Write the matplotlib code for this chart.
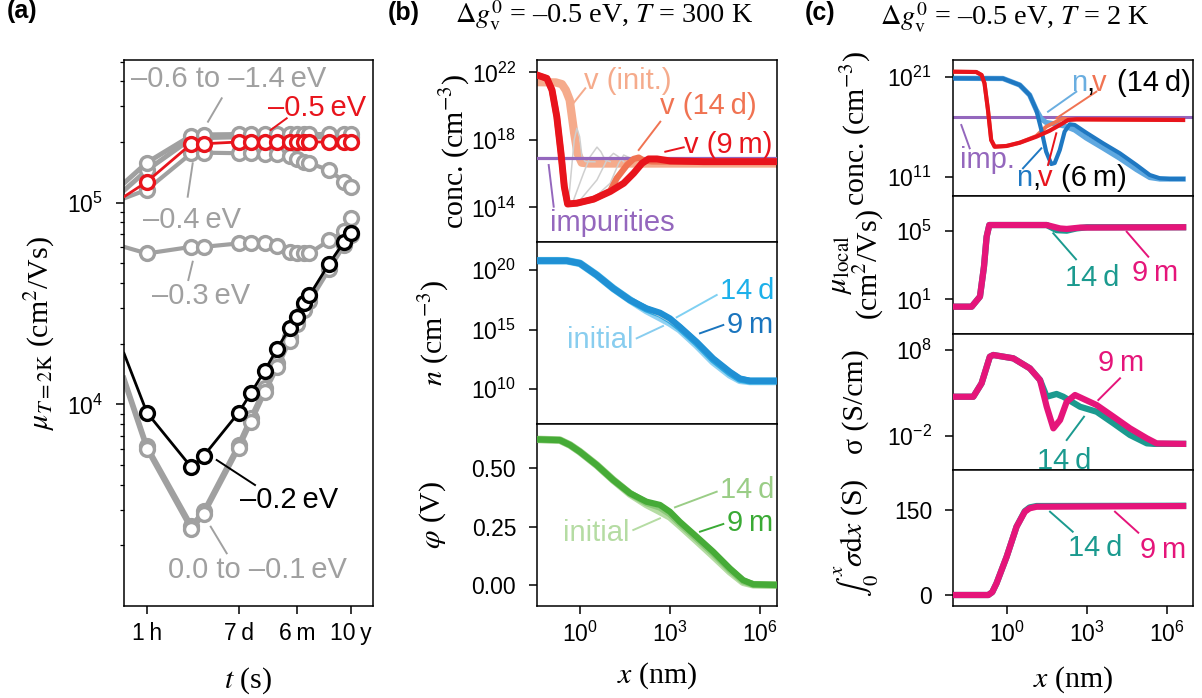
import numpy as np
import matplotlib
matplotlib.use('Agg')
import matplotlib.pyplot as plt
from matplotlib.lines import Line2D
from matplotlib.ticker import NullLocator, LogLocator, NullFormatter

plt.rcParams['font.family'] = ['Liberation Sans', 'DejaVu Sans']
plt.rcParams['mathtext.fontset'] = 'custom'
plt.rcParams['mathtext.rm'] = 'Liberation Sans'
plt.rcParams['mathtext.it'] = 'Liberation Sans:italic'
plt.rcParams['mathtext.bf'] = 'Liberation Sans:bold'

# ---------------- panel (a): mobility vs time ----------------
t_sec = [1e3, 3600, 43200, 86400, 604800, 1.21e6, 2.6e6, 5.2e6, 1.04e7,
         1.58e7, 2.37e7, 3.16e7, 9.5e7, 2.2e8, 3.16e8]
mu_m02 = [1.79e4, 9.1e3, 4.87e3, 5.56e3, 9.1e3, 1.14e4, 1.47e4, 1.89e4, 2.39e4,
          2.71e4, 3.18e4, 3.47e4, 4.99e4, 6.4e4, 7.05e4]
mu_m05 = [1.07e5, 1.27e5, 1.96e5, 1.96e5, 2.0e5, 2.0e5, 2.0e5, 2.0e5, 2.0e5,
          2.0e5, 2.0e5, 2.0e5, 2.0e5, 2.0e5, 2.0e5]
mu_m06 = [1.15e5, 1.45e5, 2.08e5, 2.1e5, 2.12e5, 2.12e5, 2.12e5, 2.12e5, 2.12e5,
          2.12e5, 2.12e5, 2.12e5, 2.12e5, 2.12e5, 2.12e5]
mu_m14 = [1.25e5, 1.58e5, 2.15e5, 2.17e5, 2.18e5, 2.18e5, 2.18e5, 2.18e5, 2.18e5,
          2.18e5, 2.18e5, 2.18e5, 2.18e5, 2.18e5, 2.18e5]
mu_m04 = [1.05e5, 1.16e5, 1.76e5, 1.77e5, 1.76e5, 1.76e5, 1.75e5, 1.74e5, 1.7e5,
          1.65e5, 1.6e5, 1.57e5, 1.45e5, 1.27e5, 1.2e5]
mu_m03 = [6.04e4, 5.6e4, 6.04e4, 6.04e4, 6.28e4, 6.28e4, 6.28e4, 6.1e4, 5.7e4,
          5.62e4, 5.62e4, 5.62e4, 6.5e4, 7.2e4, 8.4e4]
mu_m00 = [1.31e4, 6.0e3, 2.4e3, 2.85e3, 6.07e3, 8.2e3, 1.15e4, 1.53e4, 2.07e4,
          2.5e4, 2.95e4, 3.25e4, 4.7e4, 6.2e4, 6.9e4]
mu_m01 = [1.35e4, 6.2e3, 2.5e3, 2.95e3, 6.3e3, 8.6e3, 1.2e4, 1.6e4, 2.15e4,
          2.6e4, 3.05e4, 3.35e4, 4.85e4, 6.3e4, 7.0e4]
t_ticks = [3600, 604800, 1.58e7, 3.156e8]
t_labels = ['1\u2009h', '7\u2009d', '6\u2009m', '10\u2009y']

# ---------------- panel (b): T = 300 K profiles (log10 x in nm) ----------------
bv9_lx = [-1.43, -1.1, -0.93, -0.77, -0.63, -0.52, -0.41, -0.1, 0.46, 1.01, 1.46,
          1.79, 2.07, 2.29, 2.57, 3.01, 4.12, 6.57]
bv9_ly = [21.84, 21.64, 20.95, 19.37, 17.2, 15.23, 14.2, 14.25, 14.49, 14.94, 15.43,
          16.02, 16.61, 16.87, 16.87, 16.75, 16.71, 16.71]
bv14_lx = [-1.43, -1.1, -0.93, -0.77, -0.63, -0.52, -0.41, -0.1, 0.46, 1.01, 1.23,
           1.57, 1.79, 1.96, 2.12, 2.4, 3.0, 6.57]
bv14_ly = [21.84, 21.64, 20.95, 19.37, 17.2, 15.23, 14.2, 14.25, 14.49, 14.98, 15.73,
           16.51, 16.87, 16.95, 16.78, 16.72, 16.71, 16.71]
bvi_lx = [-1.43, -0.8, -0.6, -0.47, -0.34, -0.19, -0.08, 0.06, 0.3, 6.57]
bvi_ly = [21.42, 21.4, 21.3, 20.95, 20.36, 18.4, 17.2, 16.65, 16.6, 16.6]
gA_lx = [-0.41, -0.38, -0.19, -0.1, -0.01, 0.07, 0.18, 0.5]
gA_ly = [14.2, 14.34, 18.0, 18.69, 18.19, 17.0, 16.71, 16.7]
gB_lx = [-0.21, 0.12, 0.34, 0.57, 0.7, 0.84, 1.01]
gB_ly = [14.44, 16.02, 17.0, 17.57, 17.3, 16.81, 16.71]
gC_lx = [0.01, 0.57, 0.9, 1.12, 1.29, 1.46]
gC_ly = [14.44, 15.63, 16.81, 17.2, 17.0, 16.71]
gD_lx = [0.46, 1.01, 1.29, 1.46, 1.62, 1.79]
gD_ly = [14.54, 15.43, 16.6, 17.1, 16.97, 16.71]
imp_conc = 9e16

bn_lx = [-1.43, -0.44, 0.0, 0.56, 1.11, 1.67, 2.22, 2.67, 3.0, 3.33, 3.89, 4.44,
         5.0, 5.33, 5.67, 6.57]
bn9_ly = [20.78, 20.78, 20.56, 19.58, 18.46, 17.48, 16.78, 16.41, 15.94, 15.24, 13.97,
          12.58, 11.46, 10.9, 10.7, 10.7]
bn14_ly = [20.78, 20.78, 20.56, 19.58, 18.46, 17.48, 16.72, 16.3, 15.8, 15.15, 13.88,
           12.48, 11.36, 10.83, 10.68, 10.68]
bnm_ly = [20.78, 20.78, 20.56, 19.58, 18.46, 17.48, 16.65, 16.12, 15.65, 15.05, 13.78,
          12.38, 11.25, 10.78, 10.66, 10.66]
bni_ly = [20.78, 20.78, 20.56, 19.58, 18.46, 17.48, 16.6, 16.0, 15.55, 15.0, 13.7,
          12.3, 11.2, 10.75, 10.65, 10.65]

bp_lx = [-1.43, -0.67, -0.33, 0.0, 0.56, 1.11, 1.67, 2.22, 2.67, 3.0, 3.33, 3.89,
         4.44, 5.0, 5.44, 5.78, 6.57]
bp9 = [0.624, 0.621, 0.6, 0.571, 0.514, 0.45, 0.393, 0.357, 0.343, 0.314, 0.271,
       0.207, 0.143, 0.071, 0.021, 0.003, 0.0]
bp14 = [0.624, 0.621, 0.6, 0.571, 0.514, 0.45, 0.393, 0.352, 0.333, 0.305, 0.264,
        0.2, 0.136, 0.065, 0.017, 0.002, 0.0]
bpi = [0.624, 0.621, 0.6, 0.571, 0.514, 0.45, 0.39, 0.345, 0.315, 0.292, 0.255,
       0.19, 0.125, 0.057, 0.012, 0.001, 0.0]

# ---------------- panel (c): T = 2 K profiles ----------------
cv6_lx = [-2.02, -1.15, -0.95, -0.84, -0.71, -0.59, -0.46, -0.02, 0.48, 1.1, 1.6,
          1.98, 2.29, 2.6, 6.6]
cv6_ly = [21.53, 21.5, 21.2, 20.37, 17.7, 14.7, 14.03, 14.1, 14.43, 15.03, 15.63,
          16.2, 16.7, 16.77, 16.7]
cv14_lx = [-2.02, -1.15, -0.95, -0.84, -0.71, -0.59, -0.46, -0.02, 0.48, 1.1, 1.47,
           1.85, 2.1, 2.4, 6.6]
cv14_ly = [21.53, 21.5, 21.2, 20.37, 17.7, 14.7, 14.03, 14.1, 14.43, 15.1, 16.03,
           16.53, 16.85, 16.75, 16.7]
cn6_lx = [-2.02, -0.15, 0.48, 0.85, 1.1, 1.29, 1.47, 1.66, 1.79, 1.98, 2.16, 2.35,
          2.54, 2.97, 3.6, 4.23, 4.85, 5.35, 5.73, 6.1, 6.6]
cn6_ly = [20.87, 20.85, 20.2, 19.2, 17.7, 15.7, 13.53, 12.3, 12.4, 13.7, 15.53, 16.27,
          16.2, 15.43, 14.37, 13.37, 12.2, 11.2, 10.87, 10.8, 10.8]
cn14_lx = [-2.02, -0.15, 0.48, 0.85, 1.1, 1.29, 1.47, 1.79, 2.16, 2.54, 2.97, 3.6,
           4.23, 4.85, 5.35, 5.73, 6.6]
cn14_ly = [20.87, 20.85, 20.2, 19.2, 17.7, 16.8, 16.45, 16.3, 16.1, 15.7, 14.9, 13.9,
           12.87, 11.75, 10.95, 10.8, 10.8]

cm9_lx = [-2.02, -1.32, -1.01, -0.86, -0.76, -0.66, 1.49, 1.99, 2.24, 2.74, 6.6]
cm9_ly = [0.57, 0.57, 1.16, 2.91, 4.67, 5.35, 5.35, 5.15, 5.12, 5.2, 5.22]
cm14_lx = [-2.02, -1.32, -1.01, -0.86, -0.76, -0.66, 1.49, 1.86, 2.24, 2.6, 3.0, 6.6]
cm14_ly = [0.57, 0.57, 1.16, 2.91, 4.67, 5.35, 5.35, 5.05, 5.02, 5.15, 5.22, 5.22]

cs9_lx = [-2.02, -1.26, -0.95, -0.64, -0.51, 0.24, 0.86, 1.24, 1.49, 1.74, 1.99, 2.24,
          2.55, 3.36, 3.99, 4.61, 5.24, 5.61, 6.6]
cs9_ly = [2.55, 2.55, 4.11, 7.22, 7.42, 7.03, 5.86, 4.5, 1.38, -1.14, -0.17, 1.97,
          2.75, 1.58, 0.22, -1.14, -2.3, -2.9, -2.95]
cs14_lx = [-2.02, -1.26, -0.95, -0.64, -0.51, 0.24, 0.86, 1.24, 1.49, 1.86, 2.11, 2.74,
           3.36, 3.99, 4.61, 5.24, 5.5, 6.6]
cs14_ly = [2.55, 2.55, 4.11, 7.22, 7.42, 7.03, 5.86, 4.5, 2.55, 2.87, 2.55, 1.38,
           0.8, -0.55, -1.92, -2.89, -2.95, -2.95]

ci_lx = [-2.02, -0.7, -0.55, -0.39, -0.01, 0.36, 0.67, 0.85, 1.11, 6.6]
ci9 = [0, 0, 5, 20.6, 67.6, 120.5, 147, 153, 155.8, 157]
ci14 = [0, 0, 5, 20.6, 67.6, 120.5, 148, 154.5, 157, 157.5]

# ---------------- colours ----------------
GRAY = '#a0a0a0'
RED = '#e8141c'
SALMON = '#f5ab8c'
ORANGE = '#f07352'
PURPLE = '#9467bd'
MAGENTA = '#e5157a'
TEAL = '#1b9a8f'

W, H = 1202, 698
fig = plt.figure(figsize=(W / 100, H / 100), dpi=100)


def add_ax(l, t, r, b):
    return fig.add_axes([l / W, 1 - b / H, (r - l) / W, (b - t) / H])


def style(ax):
    for s in ax.spines.values():
        s.set_linewidth(1.1)
    ax.tick_params(which='major', length=5.5, width=1.1, labelsize=16.5)
    ax.tick_params(axis='y', which='major', pad=9.5)
    ax.tick_params(axis='x', which='major', pad=6)
    ax.tick_params(which='minor', length=3, width=0.9)


def note(px, py, s, color, va='center_baseline', size=21):
    fig.text(px / W, 1 - py / H, s, color=color, fontsize=size, ha='left', va=va)


def lead(x0, y0, x1, y1, color):
    fig.add_artist(Line2D([x0 / W, x1 / W], [1 - y0 / H, 1 - y1 / H], color=color, lw=1.4))


serif = dict(fontfamily='Liberation Serif', math_fontfamily='stix', fontsize=21.5)
tserif = dict(fontfamily='Liberation Serif', math_fontfamily='stix', fontsize=20.3)


def p10(v):
    return 10 ** np.array(v)


# ---- (a)
ax = add_ax(124, 60, 373, 606)
style(ax)
ax.set_xscale('log')
ax.set_yscale('log')
n = len(t_sec)
mk = list(range(1, n))
for vals, lw in [(mu_m06, 3.5), (mu_m14, 3.5), (mu_m04, 3), (mu_m03, 3),
                 (mu_m01, 3.5), (mu_m00, 3.5)]:
    ax.plot(t_sec, vals, '-o', color=GRAY, lw=lw, ms=10, mfc='white', mec=GRAY,
            mew=2.4, markevery=mk, zorder=2)
ax.plot(t_sec, mu_m05, '-o', color=RED, lw=2, ms=10, mfc='white', mec=RED,
        mew=2.4, markevery=mk, zorder=4)
ax.plot(t_sec, mu_m02, '-o', color='k', lw=2, ms=10, mfc='white', mec='k',
        mew=2.4, markevery=mk, zorder=4)
ax.set_xlim(1e3, 1.1e9)
ax.set_ylim(1.0e3, 5.1e5)
ax.set_xticks(t_ticks)
ax.set_xticklabels(t_labels)
ax.xaxis.set_minor_locator(NullLocator())
ax.set_yticks([1e4, 1e5])
ax.yaxis.set_minor_locator(LogLocator(base=10, subs=np.arange(2, 10)))
ax.yaxis.set_minor_formatter(NullFormatter())
ax.set_ylabel(r'$\mu_{T=2\mathrm{K}}$ (cm$^2$/Vs)', **serif)
ax.yaxis.set_label_coords(-0.27, 0.5)
ax.set_xlabel(r'$t$ (s)', va='top', **serif)
ax.xaxis.set_label_coords(0.5, -0.108)

note(131, 76, '\u20130.6 to \u20131.4\u2009eV', GRAY)
lead(208, 121.7, 221.7, 98.3, GRAY)
note(268, 105, '\u20130.5\u2009eV', RED)
lead(270.7, 130, 286.7, 118.3, RED)
note(143, 216.7, '\u20130.4\u2009eV', GRAY)
lead(192.7, 163.3, 187.7, 196.7, GRAY)
note(151.7, 293.3, '\u20130.3\u2009eV', GRAY)
lead(192.7, 261.7, 188.3, 280, GRAY)
note(240, 496.7, '\u20130.2\u2009eV', 'k')
lead(216.7, 460, 255, 485, 'k')
note(168, 566.7, '0.0 to \u20130.1\u2009eV', GRAY)
lead(210.7, 526.7, 226.7, 553.3, GRAY)

# ---- (b)
b1 = add_ax(537, 60, 777, 242)
b2 = add_ax(537, 242, 777, 424)
b3 = add_ax(537, 424, 777, 606)
for a in (b1, b2, b3):
    style(a)
    a.set_xscale('log')
    a.set_xlim(10 ** -1.43, 10 ** 6.57)
    a.set_xticks([1, 1e3, 1e6])
    a.xaxis.set_minor_locator(NullLocator())
for a in (b1, b2):
    a.tick_params(axis='x', bottom=False, labelbottom=False)

b1.set_yscale('log')
b1.plot(p10(bvi_lx), p10(bvi_ly), color=SALMON, lw=6, solid_capstyle='butt', zorder=2)
for gx, gy in [(gA_lx, gA_ly), (gB_lx, gB_ly), (gC_lx, gC_ly), (gD_lx, gD_ly)]:
    b1.plot(p10(gx), p10(gy), color='#cfcfcf', lw=1.1, zorder=3)
b1.axhline(imp_conc, color=PURPLE, lw=2.3, zorder=3)
b1.plot(p10(bv14_lx), p10(bv14_ly), color=ORANGE, lw=4.5, zorder=4)
b1.plot(p10(bv9_lx), p10(bv9_ly), color=RED, lw=5, zorder=5)
b1.set_ylim(10 ** 11.95, 10 ** 22.73)
b1.set_yticks([1e14, 1e18, 1e22])
b1.yaxis.set_minor_locator(NullLocator())
b1.set_ylabel('conc. (cm$^{-3}$)', **serif)
b1.yaxis.set_label_coords(-0.27, 0.5)

b2.set_yscale('log')
b2.plot(p10(bn_lx), p10(bni_ly), color='#8fd1f2', lw=5.5, zorder=2)
b2.plot(p10(bn_lx), p10(bn14_ly), color='#2aa8e2', lw=5, zorder=3)
b2.plot(p10(bn_lx), p10(bnm_ly), color='#cfcfcf', lw=1.1, zorder=3.5)
b2.plot(p10(bn_lx), p10(bn9_ly), color='#2090d4', lw=4.5, zorder=4)
b2.set_ylim(10 ** 7.08, 10 ** 22.35)
b2.set_yticks([1e10, 1e15, 1e20])
b2.yaxis.set_minor_locator(NullLocator())
b2.set_ylabel(r'$n$ (cm$^{-3}$)', **serif)
b2.yaxis.set_label_coords(-0.36, 0.5)

b3.plot(p10(bp_lx), bpi, color='#b5dca3', lw=5.5, zorder=2)
b3.plot(p10(bp_lx), bp14, color='#8cc97a', lw=5, zorder=3)
b3.plot(p10(bp_lx), bp14, color='#cfcfcf', lw=1.1, zorder=3.5)
b3.plot(p10(bp_lx), bp9, color='#46ab37', lw=4.5, zorder=4)
b3.set_ylim(-0.09, 0.69)
b3.set_yticks([0, 0.25, 0.5])
b3.set_ylabel(r'$\varphi$ (V)', **serif)
b3.yaxis.set_label_coords(-0.37, 0.5)
b3.set_xlabel(r'$x$ (nm)', va='top', **serif)
b3.xaxis.set_label_coords(0.5, -0.30)

note(584, 78.3, 'v (init.)', SALMON)
lead(572, 105, 585.3, 88.3, SALMON)
note(660, 103.3, 'v (14\u2009d)', ORANGE)
lead(638.7, 150, 660.3, 121.7, ORANGE)
note(684, 141.7, 'v (9\u2009m)', RED)
lead(665.3, 151.7, 683.7, 147.3, RED)
note(550, 223.3, 'impurities', PURPLE, va='center')
lead(548.7, 165, 553.7, 206.7, PURPLE)

note(720, 288.3, '14\u2009d', '#1cb0ea')
lead(676.7, 317.3, 716.7, 295, '#7fd0f2')
note(727, 321.7, '9\u2009m', '#1a75be')
lead(700, 333.3, 723.3, 325, '#1a75be')
note(567, 336.7, 'initial', '#88cdef')
lead(636.7, 338.3, 663, 326, '#88cdef')

note(720, 486.7, '14\u2009d', '#9acd86')
lead(675, 507.3, 716.7, 491.7, '#9acd86')
note(727, 520, '9\u2009m', '#3aaa35')
lead(700, 531.7, 723.3, 524, '#3aaa35')
note(563, 530, 'initial', '#b5dca3')
lead(633.3, 530, 660, 518.3, '#b5dca3')

# ---- (c)
c1 = add_ax(953, 60, 1193, 196)
c2 = add_ax(953, 196, 1193, 334)
c3 = add_ax(953, 334, 1193, 470)
c4 = add_ax(953, 470, 1193, 606)
for a in (c1, c2, c3, c4):
    style(a)
    a.set_xscale('log')
    a.set_xlim(10 ** -2.02, 10 ** 6.97)
    a.set_xticks([1, 1e3, 1e6])
    a.xaxis.set_minor_locator(NullLocator())
for a in (c1, c2, c3):
    a.tick_params(axis='x', bottom=False, labelbottom=False)

c1.set_yscale('log')
c1.axhline(imp_conc, color=PURPLE, lw=2.2, zorder=1)
c1.plot(p10(cn14_lx), p10(cn14_ly), color='#5fa8e0', lw=3.8, zorder=2)
c1.plot(p10(cv14_lx), p10(cv14_ly), color=ORANGE, lw=2.8, zorder=2.5)
c1.plot(p10(cn6_lx), p10(cn6_ly), color='#1f78c2', lw=3, zorder=3)
c1.plot(p10(cv6_lx), p10(cv6_ly), color=RED, lw=3, zorder=4)
c1.set_ylim(10 ** 9.1, 10 ** 22.7)
c1.set_yticks([1e11, 1e21])
c1.yaxis.set_minor_locator(NullLocator())
c1.set_ylabel('conc. (cm$^{-3}$)', **serif)
c1.yaxis.set_label_coords(-0.335, 0.5)

c2.set_yscale('log')
c2.plot(p10(cm14_lx), p10(cm14_ly), color=TEAL, lw=4.5, zorder=2)
c2.plot(p10(cm9_lx), p10(cm9_ly), color=MAGENTA, lw=4.5, zorder=3)
c2.set_ylim(10 ** -1.03, 10 ** 7.05)
c2.set_yticks([1e1, 1e5])
c2.yaxis.set_minor_locator(NullLocator())
c2.set_ylabel(r'$\mu_\mathrm{local}$' + '\n' + r'(cm$^2$/Vs)', linespacing=0.9, **serif)
c2.yaxis.set_label_coords(-0.28, 0.5)

c3.set_yscale('log')
c3.plot(p10(cs14_lx), p10(cs14_ly), color=TEAL, lw=4.5, zorder=2)
c3.plot(p10(cs9_lx), p10(cs9_ly), color=MAGENTA, lw=4.5, zorder=3)
c3.set_ylim(10 ** -6.0, 10 ** 9.87)
c3.set_yticks([1e-2, 1e8])
c3.yaxis.set_minor_locator(NullLocator())
c3.set_ylabel('\u03c3 (S/cm)', **serif)
c3.yaxis.set_label_coords(-0.35, 0.5)

c4.plot(p10(ci_lx), ci14, color=TEAL, lw=4.5, zorder=2)
c4.plot(p10(ci_lx), ci9, color=MAGENTA, lw=4.5, zorder=3)
c4.set_ylim(-19.4, 220.6)
c4.set_yticks([0, 150])
c4.set_ylabel(r'$\int_0^x\sigma\mathrm{d}x$ (S)', **serif)
c4.yaxis.set_label_coords(-0.30, 0.5)
c4.set_xlabel(r'$x$ (nm)', va='top', **serif)
c4.xaxis.set_label_coords(0.5, -0.426)

# multi-coloured labels in (c) top
note(1071, 80, 'n', '#6aaee0')
note(1086, 80, ',', 'k')
note(1092, 80, 'v', ORANGE)
note(1117, 80, '(14\u2009d)', 'k')
lead(1048, 111.7, 1076.3, 91.7, '#6aaee0')
lead(1056.3, 118.3, 1096.3, 91.7, ORANGE)
note(1016, 175, 'n', '#1f78c2')
note(1032, 175, ',', 'k')
note(1038, 175, 'v', RED)
note(1061, 175, '(6\u2009m)', 'k')
lead(1023, 168.3, 1041.3, 148.3, '#1f78c2')
lead(1048, 165, 1056.3, 133.3, RED)
note(960, 160, 'imp.', PURPLE, va='center')
lead(961.3, 125, 969.7, 148.3, PURPLE)

note(1065, 275, '14\u2009d', TEAL)
lead(1053.3, 233.3, 1076, 259.3, TEAL)
note(1132, 270, '9\u2009m', MAGENTA)
lead(1126.7, 231.7, 1148.3, 256.7, MAGENTA)

note(1098, 360, '9\u2009m', MAGENTA)
lead(1098.3, 400, 1120, 378.3, MAGENTA)
note(1037, 458.3, '14\u2009d', TEAL)
lead(1084, 416.7, 1066.7, 440, TEAL)

note(1068, 545, '14\u2009d', TEAL)
lead(1050, 511.7, 1072.7, 531.7, TEAL)
note(1140, 546.7, '9\u2009m', MAGENTA)
lead(1115, 511.7, 1138.3, 532.7, MAGENTA)

# panel letters and titles
fig.text(7 / W, 1 - 18 / H, '(a)', fontsize=18, fontweight='bold', va='baseline')
fig.text(388 / W, 1 - 20 / H, '(b)', fontsize=18, fontweight='bold', va='baseline')
fig.text(805 / W, 1 - 20 / H, '(c)', fontsize=18, fontweight='bold', va='baseline')
fig.text(455 / W, 1 - 24 / H, '$\\Delta g_\\mathrm{v}^0$ = \u20130.5 eV, $T$ = 300 K',
         va='baseline', **tserif)
fig.text(880 / W, 1 - 26 / H, '$\\Delta g_\\mathrm{v}^0$ = \u20130.5 eV, $T$ = 2 K',
         va='baseline', **tserif)

fig.savefig('out.png', dpi=100)
